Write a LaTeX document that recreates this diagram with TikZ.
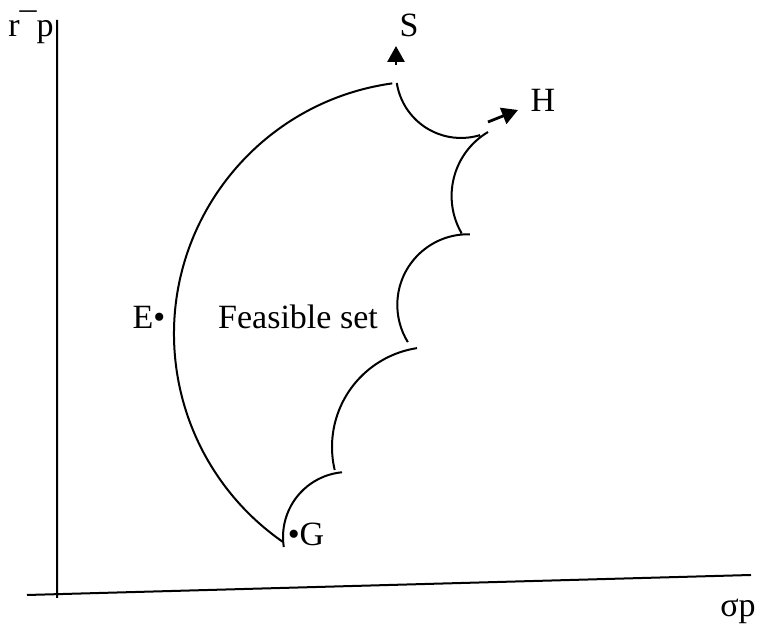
\documentclass[tikz,border=0pt]{standalone}
\usepackage{fontspec}
\setmainfont{Liberation Serif}
\usetikzlibrary{positioning, arrows.meta, calc}

\begin{document}
\begin{tikzpicture}[
  x=0.5pt, y=0.5pt,
  font=\fontsize{17}{20}\selectfont,
  axis/.style = {line width=1pt},
  frontier/.style = {line width=1pt},
  txt/.style = {anchor=base, inner sep=0pt},
  move/.style = {line width=1.4pt, -{Triangle[length=8pt,width=8.5pt]}}
]
  \useasboundingbox (0,0) rectangle (760,624);

  % Place the plot axes
  \coordinate (y_top) at (57,604);
  \coordinate (y_end) at (57,26);
  \coordinate (x_beg) at (27,29);
  \coordinate (x_end) at (751,49);

  % Draw the axes
  \path[draw, axis]
    (y_top) -- (y_end)
    (x_beg) -- (x_end)
  ;
  \node[txt] (ret) at (31,587) {r¯p};
  \node[txt] (risk) at (738,7) {σp};

  % Centres of the arcs round the feasible set
  \coordinate (big_c) at (427,290);
  \coordinate (sc_1) at (461,551);
  \coordinate (sc_2) at (526,428);
  \coordinate (sc_3) at (468,319);
  \coordinate (sc_4) at (432,177);
  \coordinate (sc_5) at (348,87);

  % Draw the border of the set
  \path[draw, frontier]
    ($(big_c)+(97.9:253)$) arc[start angle=97.9, end angle=235.3, radius=253]
    ($(sc_1)+(188.9:65)$) arc[start angle=188.9, end angle=287, radius=65]
    ($(sc_2)+(210:74.4)$) arc[start angle=210, end angle=120.7, radius=74.4]
    ($(sc_3)+(88.4:70.7)$) arc[start angle=88.4, end angle=211.7, radius=70.7]
    ($(sc_4)+(98.6:100)$) arc[start angle=98.6, end angle=193.3, radius=100]
    ($(sc_5)+(95.3:65)$) arc[start angle=95.3, end angle=188.9, radius=65]
  ;

  % Points and labels
  \node[txt] (e) at (149,295) {E•};
  \node[txt] (feasible) at (298,295) {Feasible set};
  \node[txt] (g) at (306,78) {•G};
  \node[txt] (s) at (409,587) {S};
  \node[txt] (h) at (543,512) {H};

  \coordinate (s_from) at (396,559);
  \coordinate (s_tip) at (396,578);
  \coordinate (h_from) at (488,502);
  \coordinate (h_tip) at (518,514);
  \path[draw, move] (s_from) -- (s_tip);
  \path[draw, move] (h_from) -- (h_tip);
\end{tikzpicture}
\end{document}
